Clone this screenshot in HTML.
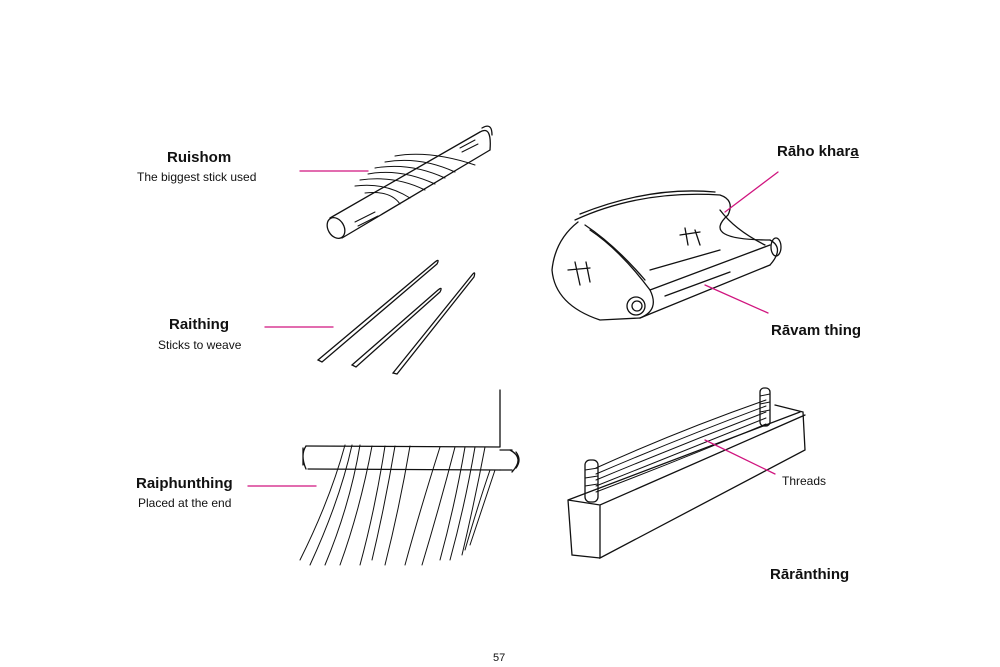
<!DOCTYPE html>
<html><head><meta charset="utf-8"><style>
html,body{margin:0;padding:0;background:#fff}
#c{position:relative;width:1000px;height:667px;overflow:hidden;font-family:"Liberation Sans",sans-serif;color:#111}
.t{position:absolute;font-weight:bold;font-size:15px;white-space:nowrap}
.s{position:absolute;font-size:12px;white-space:nowrap}
svg{position:absolute;left:0;top:0}
</style></head><body><div id="c">
<svg width="1000" height="667" fill="none" stroke="#111" stroke-width="1.3" stroke-linecap="round">
<!-- Ruishom stick -->
<path d="M330 218 L480 132 M342 238 L490 150"/>
<ellipse cx="336" cy="228" rx="8" ry="11" transform="rotate(-30 336 228)"/>
<path d="M480 132 Q492 125 490 150 M482 128 Q492 122 492 135"/>
<g stroke-width="1">
<path d="M395 156 Q430 150 475 165 M385 162 Q420 156 455 172 M375 168 Q410 162 445 178 M368 174 Q400 168 435 184 M360 180 Q395 175 425 190 M355 186 Q385 182 410 198 M365 193 Q390 190 400 204"/>
<path d="M355 222 L375 212 M358 226 L378 216 M460 148 L475 140 M462 152 L478 144"/>
</g>
<!-- Raithing sticks -->
<path d="M318 360 L435 262 Q440 258 437 264 L322 362 Z"/>
<path d="M352 365 L438 290 Q443 286 440 292 L356 367 Z"/>
<path d="M393 373 L472 275 Q476 270 474 277 L397 374 Z"/>
<!-- Raho khara roll -->
<path d="M575 220 Q640 190 720 195 Q735 200 728 215 Q700 240 770 240"/>
<path d="M580 214 Q650 186 715 192"/>
<path d="M578 222 Q555 240 552 270 Q555 305 600 320 L640 318"/>
<path d="M590 230 Q620 250 650 290 Q660 310 640 318"/>
<path d="M585 225 Q615 245 645 280"/>
<path d="M640 318 L770 265 M650 290 L770 245 M650 270 L720 250 M665 296 L730 272"/>
<path d="M770 240 Q785 248 770 265"/>
<ellipse cx="776" cy="247" rx="5" ry="9"/>
<circle cx="636" cy="306" r="9"/><circle cx="637" cy="306" r="5"/>
<path d="M720 210 Q735 230 765 245"/>
<path d="M680 235 L700 232 M685 228 L688 245 M695 230 L700 245 M568 270 L590 268 M575 262 L580 285 M586 262 L590 282"/>
<!-- Raiphunthing -->
<path d="M306 446 L500 447 M500 390 L500 447 M308 469 L500 470" />
<path d="M306 446 Q300 455 306 469 M303 448 L303 465 M510 450 Q525 458 512 472 M516 452 Q522 460 516 468"/>
<path d="M500 450 L512 450 M500 470 L512 470"/>
<g stroke-width="1">
<path d="M345 445 Q330 500 300 560 M352 445 Q340 500 310 565 M360 445 Q350 505 325 565 M372 446 Q360 510 340 565 M385 446 Q375 510 360 565 M395 446 Q385 505 372 560 M410 446 Q400 505 385 565 M440 447 Q420 510 405 565 M455 447 Q440 505 422 565 M465 447 Q455 505 440 560 M475 447 Q465 505 450 560 M485 447 Q475 500 462 555 M495 470 Q485 500 470 545 M490 470 Q478 505 465 550"/>
</g>
<!-- Raranthing -->
<path d="M568 500 L800 412 M568 500 L572 555 L600 558 M600 505 L600 558 L805 450 L803 412 L775 405 M568 500 L600 505 L805 415"/>
<rect x="585" y="460" width="13" height="42" rx="5"/>
<rect x="760" y="388" width="10" height="38" rx="4"/>
<g stroke-width="1">
<path d="M596 468 Q680 430 766 400 M596 474 Q680 438 766 406 M596 480 Q680 445 766 412 M596 486 Q680 452 766 418 M596 492 Q680 460 766 424"/>
<path d="M585 470 L598 468 M585 478 L598 476 M585 486 L598 484 M760 396 L770 394 M760 404 L770 402 M760 412 L770 410"/>
</g>
<!-- leaders -->
<g stroke="#d0157f" stroke-width="1.3">
<line x1="300" y1="171" x2="368" y2="171"/>
<line x1="265" y1="327" x2="333" y2="327"/>
<line x1="248" y1="486" x2="316" y2="486"/>
<line x1="778" y1="172" x2="725" y2="212"/>
<line x1="768" y1="313" x2="705" y2="285"/>
<line x1="775" y1="474" x2="705" y2="440"/>
</g>
</svg>
<div class="t" style="left:167px;top:149px">Ruishom</div>
<div class="s" style="left:137px;top:170px">The biggest stick used</div>
<div class="t" style="left:169px;top:316px">Raithing</div>
<div class="s" style="left:158px;top:338px">Sticks to weave</div>
<div class="t" style="left:136px;top:475px">Raiphunthing</div>
<div class="s" style="left:138px;top:496px">Placed at the end</div>
<div class="t" style="left:777px;top:143px">Rāho khar<u>a</u></div>
<div class="t" style="left:771px;top:322px">Rāvam thing</div>
<div class="s" style="left:782px;top:474px">Threads</div>
<div class="t" style="left:770px;top:566px">Rārānthing</div>
<div class="s" style="left:493px;top:652px;font-size:11px">57</div>
</div></body></html>
